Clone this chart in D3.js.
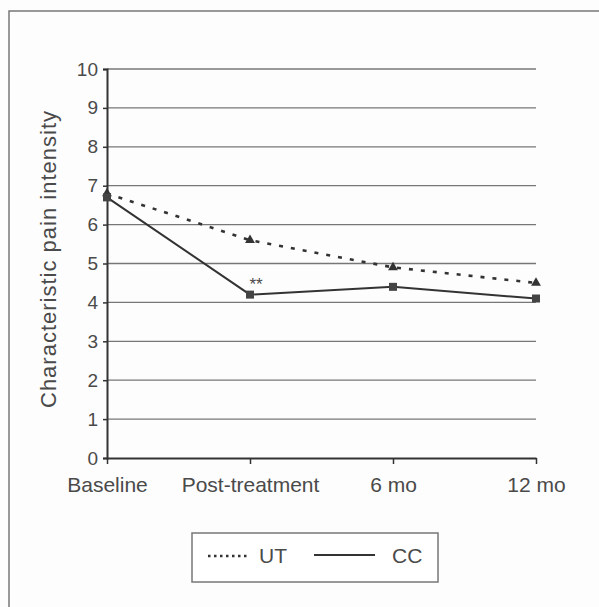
<!DOCTYPE html>
<html><head><meta charset="utf-8">
<script src="https://cdn.jsdelivr.net/npm/d3@7"></script>
<style>body{margin:0;background:#fff;}svg{display:block;font-family:"Liberation Sans",Arial,sans-serif;}</style>
</head><body>
<script>
const categories = ["Baseline","Post-treatment","6 mo","12 mo"];
const utValues = [6.8, 5.6, 4.9, 4.5];
const ccValues = [6.7, 4.2, 4.4, 4.1];
const yTicks = [0,1,2,3,4,5,6,7,8,9,10];
const seriesNames = ["UT","CC"];

const W=599,H=607;
const svg=d3.select("body").append("svg").attr("width",W).attr("height",H);
svg.append("rect").attr("width",W).attr("height",H).attr("fill","#fdfdfd");
// outer frame
svg.append("path").attr("d","M9,607 V11 H599").attr("fill","none").attr("stroke","#777").attr("stroke-width",1.5);

const x=d3.scalePoint().domain(categories).range([107,536]).padding(0);
const y=d3.scaleLinear().domain([0,10]).range([458,69]);
const textCol="#4a4a4a", lineCol="#333";
const FF="Liberation Sans, Arial, sans-serif";

// gridlines
svg.append("g").selectAll("line").data(yTicks.filter(d=>d>0)).join("line")
  .attr("x1",107).attr("x2",536).attr("y1",d=>y(d)).attr("y2",d=>y(d))
  .attr("stroke","#777").attr("stroke-width",1.3);

// y axis
const ya=svg.append("g").attr("transform","translate(107,0)")
  .call(d3.axisLeft(y).tickValues(yTicks).tickSize(4).tickPadding(5).tickFormat(d3.format("d")));
ya.select(".domain").attr("stroke",lineCol).attr("stroke-width",2);
ya.selectAll(".tick line").attr("stroke",lineCol).attr("stroke-width",1.5);
ya.selectAll("text").attr("fill",textCol).attr("font-size",19).attr("font-family",FF);

// x axis
const xa=svg.append("g").attr("transform","translate(0,458)")
  .call(d3.axisBottom(x).tickSize(6).tickSizeOuter(0).tickPadding(13));
xa.select(".domain").attr("stroke",lineCol).attr("stroke-width",2.2);
xa.selectAll(".tick line").attr("stroke",lineCol).attr("stroke-width",1.5);
xa.selectAll("text").attr("fill",textCol).attr("font-size",21).attr("font-family",FF);

// y title
svg.append("text").attr("transform","translate(56,259) rotate(-90)").attr("text-anchor","middle")
  .attr("fill",textCol).attr("font-size",22).attr("letter-spacing",1).text("Characteristic pain intensity");

const line=d3.line().x((d,i)=>x(categories[i])).y(d=>y(d));
// UT dotted
svg.append("path").datum(utValues).attr("d",line).attr("fill","none").attr("stroke",lineCol)
  .attr("stroke-width",2.6).attr("stroke-dasharray","4,8");
// CC solid
svg.append("path").datum(ccValues).attr("d",line).attr("fill","none").attr("stroke",lineCol).attr("stroke-width",2);

// markers
svg.append("g").selectAll("path").data(utValues).join("path")
  .attr("transform",(d,i)=>`translate(${x(categories[i])},${y(d)})`)
  .attr("d",d3.symbol(d3.symbolTriangle,42)).attr("fill",lineCol);
svg.append("g").selectAll("rect").data(ccValues).join("rect")
  .attr("x",(d,i)=>x(categories[i])-4).attr("y",d=>y(d)-4).attr("width",8).attr("height",8).attr("fill","#444");

// significance
svg.append("text").attr("x",x(categories[1])+6).attr("y",y(ccValues[1])-5).attr("text-anchor","middle")
  .attr("fill",textCol).attr("font-size",17).text("**");

// legend
const lg=svg.append("g");
lg.append("rect").attr("x",192).attr("y",533).attr("width",246).attr("height",49).attr("fill","#fff").attr("stroke","#777").attr("stroke-width",1.5);
lg.append("line").attr("x1",208).attr("x2",248).attr("y1",556).attr("y2",556).attr("stroke",lineCol).attr("stroke-width",2.5).attr("stroke-dasharray","2.5,3.5");
lg.append("text").attr("x",259).attr("y",563).attr("fill",textCol).attr("font-size",21).text(seriesNames[0]);
lg.append("line").attr("x1",314).attr("x2",375).attr("y1",555).attr("y2",555).attr("stroke",lineCol).attr("stroke-width",2);
lg.append("text").attr("x",392).attr("y",563).attr("fill",textCol).attr("font-size",21).text(seriesNames[1]);
</script>
</body></html>
